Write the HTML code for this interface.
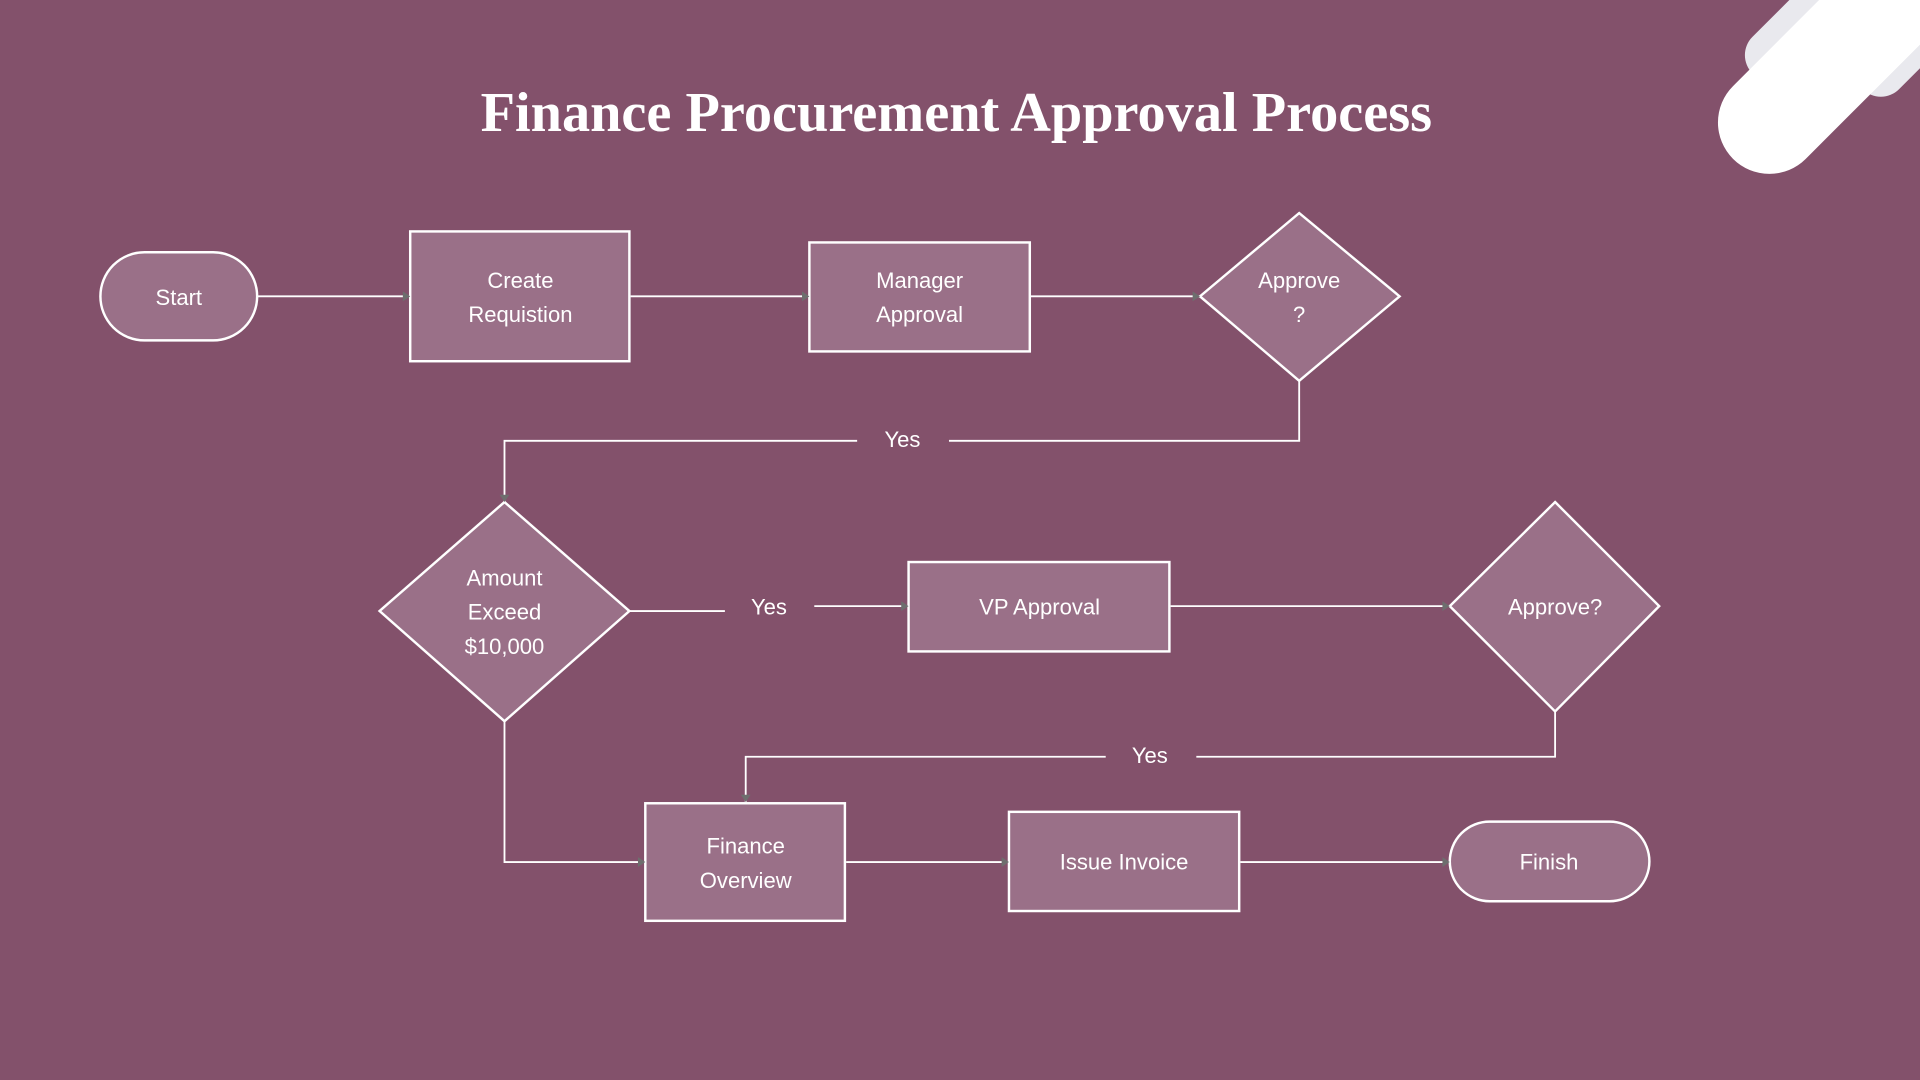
<!DOCTYPE html>
<html><head><meta charset="utf-8"><style>
html,body{margin:0;padding:0;background:#83516b;overflow:hidden}
svg{display:block}
text{font-family:"Liberation Sans",sans-serif;fill:#fff;font-size:18px;text-anchor:middle}
</style></head><body>
<svg width="1920" height="1080" viewBox="0 0 1568 882" xmlns="http://www.w3.org/2000/svg">
<rect width="1568" height="882" fill="#83516b"/>
<g stroke-linecap="round">
<line x1="1446" y1="45" x2="1510" y2="-19" stroke="#e9e9ee" stroke-width="42"/>
<line x1="1536" y1="58" x2="1600" y2="-6" stroke="#e9e9ee" stroke-width="42"/>
<line x1="1445" y1="100" x2="1560" y2="-15" stroke="#fff" stroke-width="84"/>
</g>
<text x="781" y="107" style="font-family:'Liberation Serif',serif;font-size:46px;font-weight:bold">Finance Procurement Approval Process</text>
<g fill="none" stroke="#fff" stroke-width="1.5">
<path d="M210 242H334M515 242H661M841 242H980"/>
<path d="M1061 311V360H775M700 360H412V410"/>
<path d="M514 499H592M665 495H742M956 495H1184"/>
<path d="M1270 581V618H977M903 618H609V655"/>
<path d="M412 589V704H527M691 704H824M1013 704H1184"/>
</g>
<g fill="#9a7088" stroke="#fff" stroke-width="2">
<rect x="82" y="206" width="128" height="72" rx="36"/>
<rect x="335" y="189" width="179" height="106"/>
<rect x="661" y="198" width="180" height="89"/>
<polygon points="1061,174 1143,242 1061,311 980,242"/>
<polygon points="412,410 514,499 412,589 310,499"/>
<rect x="742" y="459" width="213" height="73"/>
<polygon points="1270,410 1355,495 1270,581 1184,495"/>
<rect x="527" y="656" width="163" height="96"/>
<rect x="824" y="663" width="188" height="81"/>
<rect x="1184" y="671" width="163" height="65" rx="32.5"/>
</g>
<g fill="#6e6e6e">
<path d="M329 238l6 4-6 4z"/><path d="M655 238l6 4-6 4z"/><path d="M974 238l6 4-6 4z"/>
<path d="M736 491l6 4-6 4z"/><path d="M1178 491l6 4-6 4z"/><path d="M521 700l6 4-6 4z"/>
<path d="M818 700l6 4-6 4z"/><path d="M1178 700l6 4-6 4z"/>
<path d="M408 404l4 6 4-6z"/><path d="M605 649l4 6 4-6z"/>
</g>
<text x="146" y="249">Start</text>
<text x="425" y="235">Create</text><text x="425" y="263">Requistion</text>
<text x="751" y="235">Manager</text><text x="751" y="263">Approval</text>
<text x="1061" y="235">Approve</text><text x="1061" y="263">?</text>
<text x="737" y="365">Yes</text>
<text x="412" y="478">Amount</text><text x="412" y="506">Exceed</text><text x="412" y="534">$10,000</text>
<text x="628" y="502">Yes</text>
<text x="849" y="502">VP Approval</text>
<text x="1270" y="502">Approve?</text>
<text x="939" y="623">Yes</text>
<text x="609" y="697">Finance</text><text x="609" y="725">Overview</text>
<text x="918" y="710">Issue Invoice</text>
<text x="1265" y="710">Finish</text>
</svg>
</body></html>
